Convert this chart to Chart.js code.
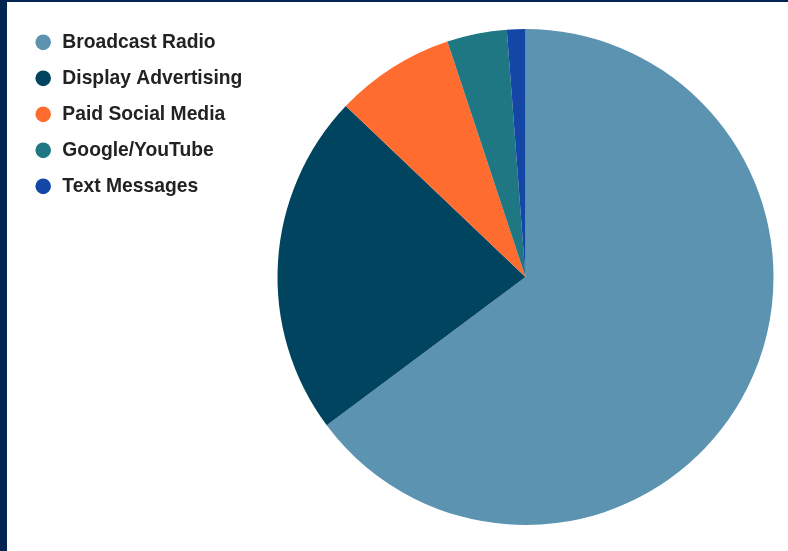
<!DOCTYPE html>
<html>
<head>
<meta charset="utf-8">
<script src="https://cdn.jsdelivr.net/npm/chart.js@4"></script>
<style>
  html, body { margin: 0; padding: 0; background: #002554; }
  body { width: 788px; height: 551px; position: relative; overflow: hidden; }
  #wrap { position: absolute; left: 7px; top: 2px; width: 781px; height: 549px; background: #fff; }
</style>
</head>
<body>
<div id="wrap"><canvas id="pie"></canvas></div>
<script>
const channels = ['Broadcast Radio', 'Display Advertising', 'Paid Social Media', 'Google/YouTube', 'Text Messages'];
const shares = [64.8, 22.3, 7.8, 3.9, 1.2];
const sliceColors = ['#5b93b0', '#00445f', '#ff6c2f', '#1f7784', '#1446a6'];

// widen the legend column so the pie sits where it does in the original
const legendWidth = {
    id: 'legendWidth',
    beforeInit(chart) {
        const fit = chart.legend.fit;
        chart.legend.fit = function () {
            fit.bind(chart.legend)();
            this.width = 260.5;
        };
    }
};

new Chart(document.getElementById('pie'), {
    type: 'pie',
    data: {
        labels: channels,
        datasets: [{
            data: shares,
            backgroundColor: sliceColors,
            borderWidth: 0
        }]
    },
    options: {
        responsive: true,
        maintainAspectRatio: false,
        animation: false,
        layout: {
            padding: { left: 10, right: 14.5, top: 14, bottom: 13 }
        },
        plugins: {
            legend: {
                position: 'left',
                align: 'start',
                labels: {
                    usePointStyle: true,
                    pointStyle: 'circle',
                    boxWidth: 19,
                    boxHeight: 11,
                    padding: 16.7,
                    color: '#222',
                    font: { family: '"Liberation Sans", Arial, sans-serif', size: 19.3, weight: 'bold' }
                }
            },
            tooltip: { enabled: false }
        }
    },
    plugins: [legendWidth]
});
</script>
</body>
</html>
